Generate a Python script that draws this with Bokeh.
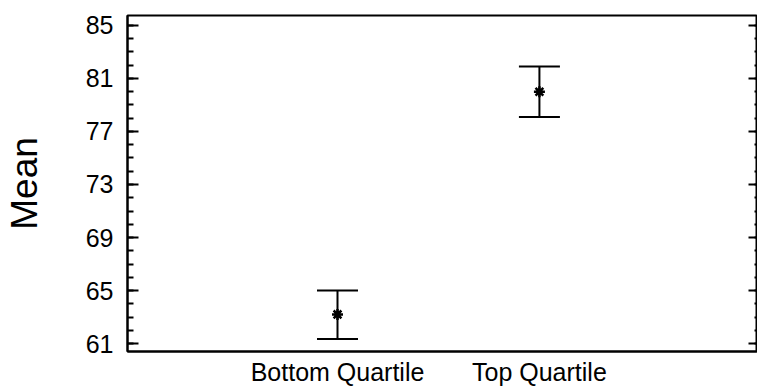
from bokeh.plotting import figure
from bokeh.models import (LinearAxis, FixedTicker, Range1d, ColumnDataSource,
                          Whisker, TeeHead)
from bokeh.embed import file_html
from bokeh.resources import INLINE

categories = ["Bottom Quartile", "Top Quartile"]
means = [63.2, 80.0]
upper = [65.0, 81.9]
lower = [61.35, 78.1]
y_ticks = [61, 65, 69, 73, 77, 81, 85]
y_minor = list(range(61, 86))

xpos = [i + 1 for i in range(len(categories))]
src = ColumnDataSource(dict(x=xpos, mean=means, upper=upper, lower=lower))

FONT = "Arial"

p = figure(width=757, height=388, output_backend="svg", toolbar_location=None,
           x_range=Range1d(-0.04, 3.08), y_range=Range1d(60.4, 85.75),
           x_axis_type=None, y_axis_type=None,
           min_border_left=126, min_border_right=0, min_border_top=15,
           min_border_bottom=37)
p.grid.visible = False
p.outline_line_color = "black"
p.outline_line_width = 2
p.background_fill_color = "white"
p.border_fill_color = "white"

# left axis
la = LinearAxis(ticker=FixedTicker(ticks=y_ticks, minor_ticks=y_minor))
la.axis_label = "Mean"
la.axis_label_text_font = FONT
la.axis_label_text_font_size = "37px"
la.axis_label_text_font_style = "normal"
la.axis_label_text_color = "black"
la.axis_label_standoff = 38
la.major_label_text_font = FONT
la.major_label_text_font_size = "25px"
la.major_label_text_color = "black"
la.major_label_standoff = 14
la.major_tick_in = 11
la.major_tick_out = 0
la.minor_tick_in = 6
la.minor_tick_out = 0
la.axis_line_width = 2
la.major_tick_line_width = 2
la.minor_tick_line_width = 2
p.add_layout(la, "left")

# right axis (ticks only)
ra = LinearAxis(ticker=FixedTicker(ticks=y_ticks, minor_ticks=y_minor))
ra.major_label_overrides = {t: "" for t in y_ticks}
ra.major_label_standoff = 0
ra.major_tick_in = 9
ra.major_tick_out = 0
ra.minor_tick_in = 3
ra.minor_tick_out = 0
ra.axis_line_width = 2
ra.major_tick_line_width = 2
ra.minor_tick_line_width = 2
p.add_layout(ra, "right")

# bottom axis with category labels
ba = LinearAxis(ticker=FixedTicker(ticks=xpos, minor_ticks=[]))
ba.major_label_overrides = {x: c for x, c in zip(xpos, categories)}
ba.major_label_text_font = FONT
ba.major_label_text_font_size = "25px"
ba.major_label_text_color = "black"
ba.major_label_standoff = 6
ba.major_tick_in = 0
ba.major_tick_out = 0
ba.axis_line_width = 2
p.add_layout(ba, "below")

w = Whisker(source=src, base="x", upper="upper", lower="lower",
            line_width=2, line_color="black",
            upper_head=TeeHead(size=41, line_width=2, line_color="black"),
            lower_head=TeeHead(size=41, line_width=2, line_color="black"))
p.add_layout(w)

p.scatter("x", "mean", source=src, marker="asterisk", size=11,
          line_width=2.5, line_color="black")

open("out.html", "w").write(file_html(p, INLINE))
